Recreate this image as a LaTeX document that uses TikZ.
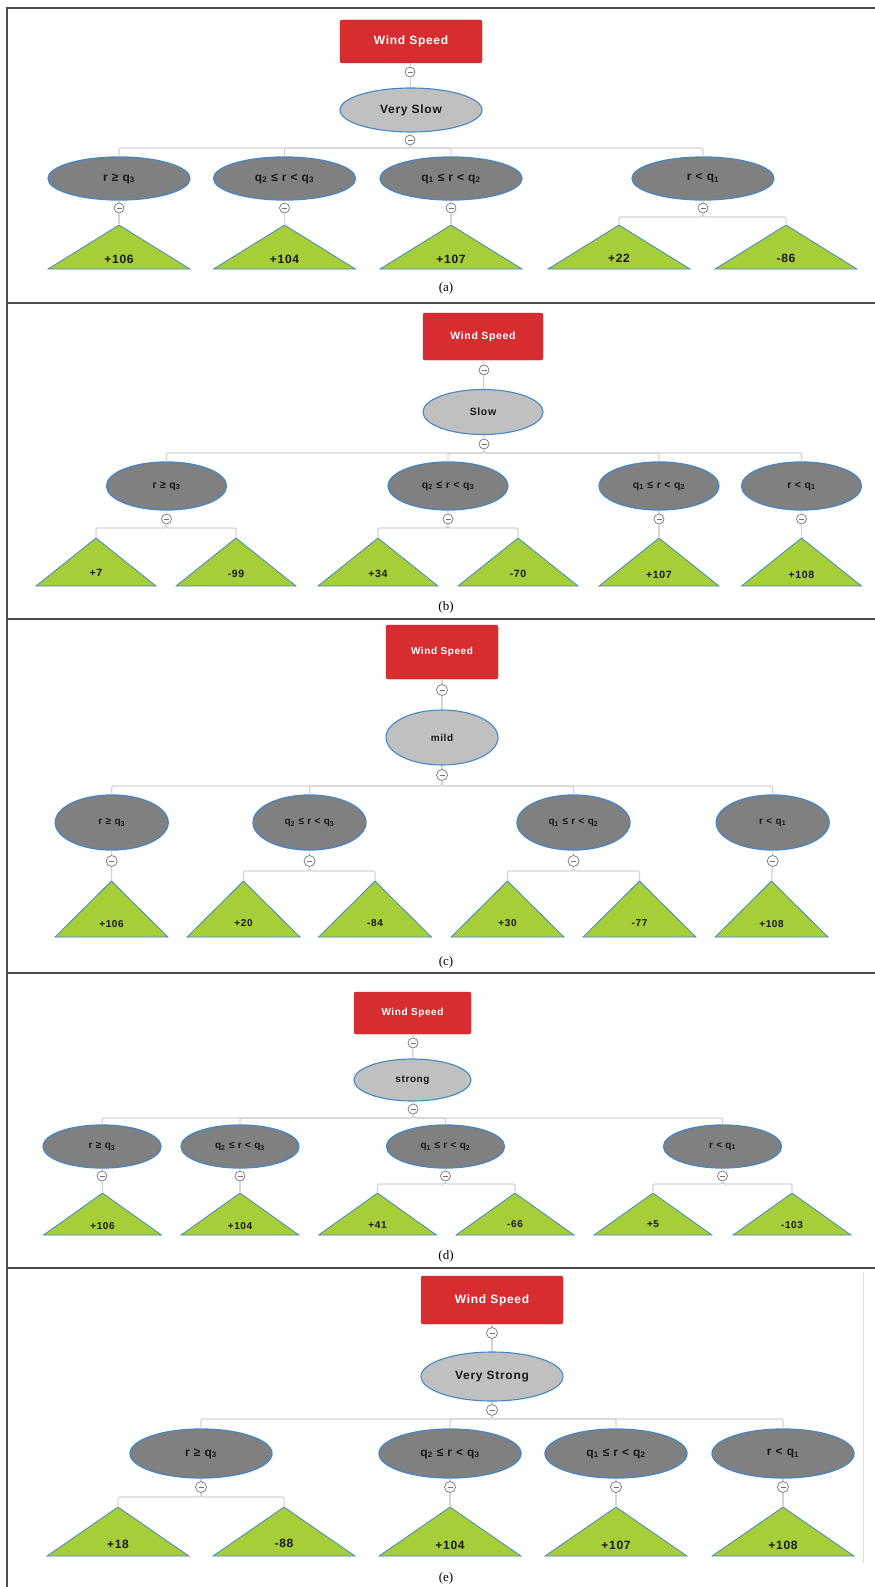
\documentclass[tikz,border=0pt]{standalone}
\usepackage{fontspec}
\setmainfont{Liberation Serif}
\newfontfamily\nodefont[LetterSpace=6]{Liberation Sans}
\usetikzlibrary{shapes.geometric,calc}
\definecolor{wsred}{RGB}{216,45,48}
\definecolor{catgray}{RGB}{192,192,192}
\definecolor{condgray}{RGB}{128,128,128}
\definecolor{leafgreen}{RGB}{166,206,57}
\definecolor{edgeblue}{RGB}{70,135,195}
\definecolor{linkgray}{RGB}{212,212,212}
\definecolor{toggray}{RGB}{115,115,115}
\definecolor{txtdark}{RGB}{25,25,25}
\newcommand{\tgl}{\rule[-0.35pt]{5pt}{0.8pt}}
\newcommand{\lv}[1]{\smash{\raisebox{-0.9em}{#1}}}

\begin{document}
\begin{tikzpicture}[x=1pt, y=-1pt,
    ws/.style={rectangle, rounded corners=2pt, fill=wsred, draw=wsred!85!black, text=white, minimum width=\nw, minimum height=\nh, inner sep=0},
    cat/.style={ellipse, fill=catgray, draw=edgeblue, line width=1.1pt, text=txtdark, minimum width=\nw, minimum height=\nh, inner sep=0},
    cond/.style={ellipse, fill=condgray, draw=edgeblue, line width=1.3pt, text=txtdark, minimum width=\nw, minimum height=\nh, inner sep=0},
    leaf/.style={isosceles triangle, isosceles triangle stretches, shape border rotate=90, fill=leafgreen, draw=edgeblue, line width=0.8pt, minimum width=\nw, minimum height=\lh, inner sep=0, anchor=apex, text=txtdark},
    tog/.style={circle, draw=toggray, fill=white, text=toggray, line width=0.7pt, minimum size=\ts, inner sep=0},
    link/.style={draw=linkgray, line width=1.3pt, rounded corners=2pt},
    frame/.style={draw=black!70, line width=1.1pt},
    captext/.style={font=\fontsize{13}{15}\selectfont},
]
\useasboundingbox (0,0) rectangle (875,1587);

% ── Frame and panel separators ──
\draw[frame] (875,8) -- (7,8) -- (7,1587);
\foreach \y in {303,619,973,1268}
  \draw[frame] (7,\y) -- (875,\y);
\draw[black!12, line width=1pt] (863,1272) -- (863,1563);

% ── Panel (a): Very Slow ──
\begin{scope}[every node/.append style={font=\nodefont\fontsize{12}{14}\selectfont\bfseries}]
  \def\nw{142pt}\def\nh{43pt}\def\lh{44pt}\def\ts{10pt}
  \node[ws]  (aws) at (411,41.5) {Wind Speed};
  \node[tog] (at0) at (410,72) {\tgl};
  \node[cat, minimum height=44pt] (acat) at (411,110) {Very Slow};
  \node[tog] (at1) at (410,140) {\tgl};
  \node[cond] (ac1) at (119,178.5) {r ≥ q\textsubscript{3}};
  \node[cond] (ac2) at (284.5,178.5) {q\textsubscript{2} ≤ r < q\textsubscript{3}};
  \node[cond] (ac3) at (451,178.5) {q\textsubscript{1} ≤ r < q\textsubscript{2}};
  \node[cond] (ac4) at (703,178.5) {r < q\textsubscript{1}};
  \node[tog] (ag1) at (119,208) {\tgl};
  \node[tog] (ag2) at (284.5,208) {\tgl};
  \node[tog] (ag3) at (451,208) {\tgl};
  \node[tog] (ag4) at (703,208) {\tgl};
  \node[leaf] (al1) at (119,224) {\lv{+106}};
  \node[leaf] (al2) at (284.5,224) {\lv{+104}};
  \node[leaf] (al3) at (451,224) {\lv{+107}};
  \node[leaf] (al4) at (619,224) {\lv{+22}};
  \node[leaf] (al5) at (786,224) {\lv{-86}};
  \draw[link] (aws) -- (at0) -- (acat) -- (at1);
  \foreach \c in {ac1,ac2,ac3,ac4}
    \draw[link] (at1) -- ++(0,8) -| (\c.north);
  \draw[link] (ac1) -- (ag1) -- (al1.apex);
  \draw[link] (ac2) -- (ag2) -- (al2.apex);
  \draw[link] (ac3) -- (ag3) -- (al3.apex);
  \draw[link] (ac4) -- (ag4);
  \draw[link] (ag4) -- ++(0,9) -| (al4.apex);
  \draw[link] (ag4) -- ++(0,9) -| (al5.apex);
\end{scope}
\node[captext] (capa) at (446,288) {(a)};

% ── Panel (b): Slow ──
\begin{scope}[every node/.append style={font=\nodefont\fontsize{10.5}{12}\selectfont\bfseries}]
  \def\nw{120pt}\def\nh{47pt}\def\lh{48pt}\def\ts{10pt}
  \node[ws]  (bws) at (483,336.5) {Wind Speed};
  \node[tog] (bt0) at (484,370) {\tgl};
  \node[cat, minimum height=45pt] (bcat) at (483,412) {Slow};
  \node[tog] (bt1) at (484,444) {\tgl};
  \node[cond, minimum height=48pt] (bc1) at (166.5,486) {r ≥ q\textsubscript{3}};
  \node[cond, minimum height=48pt] (bc2) at (448,486) {q\textsubscript{2} ≤ r < q\textsubscript{3}};
  \node[cond, minimum height=48pt] (bc3) at (659,486) {q\textsubscript{1} ≤ r < q\textsubscript{2}};
  \node[cond, minimum height=48pt] (bc4) at (801.5,486) {r < q\textsubscript{1}};
  \node[tog] (bg1) at (166.5,519) {\tgl};
  \node[tog] (bg2) at (448,519) {\tgl};
  \node[tog] (bg3) at (659,519) {\tgl};
  \node[tog] (bg4) at (801.5,519) {\tgl};
  \node[leaf] (bl1) at (96,537) {\lv{+7}};
  \node[leaf] (bl2) at (236,537) {\lv{-99}};
  \node[leaf] (bl3) at (378,537) {\lv{+34}};
  \node[leaf] (bl4) at (518,537) {\lv{-70}};
  \node[leaf] (bl5) at (659,537) {\lv{+107}};
  \node[leaf] (bl6) at (801.5,537) {\lv{+108}};
  \draw[link] (bws) -- (bt0) -- (bcat) -- (bt1);
  \foreach \c in {bc1,bc2,bc3,bc4}
    \draw[link] (bt1) -- ++(0,9) -| (\c.north);
  \foreach \c/\g in {bc1/bg1,bc2/bg2,bc3/bg3,bc4/bg4}
    \draw[link] (\c) -- (\g);
  \draw[link] (bg1) -- ++(0,9) -| (bl1.apex);
  \draw[link] (bg1) -- ++(0,9) -| (bl2.apex);
  \draw[link] (bg2) -- ++(0,9) -| (bl3.apex);
  \draw[link] (bg2) -- ++(0,9) -| (bl4.apex);
  \draw[link] (bg3) -- (bl5.apex);
  \draw[link] (bg4) -- (bl6.apex);
\end{scope}
\node[captext] (capb) at (446,607) {(b)};

% ── Panel (c): mild ──
\begin{scope}[every node/.append style={font=\nodefont\fontsize{10}{12}\selectfont\bfseries}]
  \def\nw{113pt}\def\nh{55pt}\def\lh{56pt}\def\ts{11pt}
  \node[ws, minimum width=112pt, minimum height=54pt] (cws) at (442,652) {Wind Speed};
  \node[tog] (ct0) at (442,690) {\tgl};
  \node[cat, minimum width=112pt] (ccat) at (442,737.5) {mild};
  \node[tog] (ct1) at (442,775) {\tgl};
  \node[cond] (cc1) at (111.7,822.5) {r ≥ q\textsubscript{3}};
  \node[cond] (cc2) at (309.5,822.5) {q\textsubscript{2} ≤ r < q\textsubscript{3}};
  \node[cond] (cc3) at (573.5,822.5) {q\textsubscript{1} ≤ r < q\textsubscript{2}};
  \node[cond] (cc4) at (772.7,822.5) {r < q\textsubscript{1}};
  \node[tog] (cg1) at (111.7,861) {\tgl};
  \node[tog] (cg2) at (309.5,861) {\tgl};
  \node[tog] (cg3) at (573.5,861) {\tgl};
  \node[tog] (cg4) at (772.7,861) {\tgl};
  \node[leaf] (cl1) at (111.5,880) {\lv{+106}};
  \node[leaf] (cl2) at (243.5,880) {\lv{+20}};
  \node[leaf] (cl3) at (375,880) {\lv{-84}};
  \node[leaf] (cl4) at (507.5,880) {\lv{+30}};
  \node[leaf] (cl5) at (639.5,880) {\lv{-77}};
  \node[leaf] (cl6) at (771.5,880) {\lv{+108}};
  \draw[link] (cws) -- (ct0) -- (ccat) -- (ct1);
  \foreach \c in {cc1,cc2,cc3,cc4}
    \draw[link] (ct1) -- ++(0,11) -| (\c.north);
  \foreach \c/\g in {cc1/cg1,cc2/cg2,cc3/cg3,cc4/cg4}
    \draw[link] (\c) -- (\g);
  \draw[link] (cg1) -- (cl1.apex);
  \draw[link] (cg2) -- ++(0,10) -| (cl2.apex);
  \draw[link] (cg2) -- ++(0,10) -| (cl3.apex);
  \draw[link] (cg3) -- ++(0,10) -| (cl4.apex);
  \draw[link] (cg3) -- ++(0,10) -| (cl5.apex);
  \draw[link] (cg4) -- (cl6.apex);
\end{scope}
\node[captext] (capc) at (446,962) {(c)};

% ── Panel (d): strong ──
\begin{scope}[every node/.append style={font=\nodefont\fontsize{10}{12}\selectfont\bfseries}]
  \def\nw{118pt}\def\nh{43pt}\def\lh{42pt}\def\ts{10pt}
  \node[ws, minimum width=117pt, minimum height=42pt] (dws) at (412.5,1013) {Wind Speed};
  \node[tog] (dt0) at (413,1043) {\tgl};
  \node[cat, minimum width=117pt, minimum height=42pt] (dcat) at (412.5,1080) {strong};
  \node[tog] (dt1) at (413,1109) {\tgl};
  \node[cond] (dc1) at (102,1146.5) {r ≥ q\textsubscript{3}};
  \node[cond] (dc2) at (240,1146.5) {q\textsubscript{2} ≤ r < q\textsubscript{3}};
  \node[cond] (dc3) at (445.5,1146.5) {q\textsubscript{1} ≤ r < q\textsubscript{2}};
  \node[cond] (dc4) at (722.5,1146.5) {r < q\textsubscript{1}};
  \node[tog] (dg1) at (102,1176) {\tgl};
  \node[tog] (dg2) at (240,1176) {\tgl};
  \node[tog] (dg3) at (445.5,1176) {\tgl};
  \node[tog] (dg4) at (722.5,1176) {\tgl};
  \node[leaf] (dl1) at (102.5,1192) {\lv{+106}};
  \node[leaf] (dl2) at (240,1192) {\lv{+104}};
  \node[leaf] (dl3) at (377.5,1192) {\lv{+41}};
  \node[leaf] (dl4) at (515,1192) {\lv{-66}};
  \node[leaf] (dl5) at (653,1192) {\lv{+5}};
  \node[leaf] (dl6) at (792,1192) {\lv{-103}};
  \draw[link] (dws) -- (dt0) -- (dcat) -- (dt1);
  \foreach \c in {dc1,dc2,dc3,dc4}
    \draw[link] (dt1) -- ++(0,9) -| (\c.north);
  \foreach \c/\g in {dc1/dg1,dc2/dg2,dc3/dg3,dc4/dg4}
    \draw[link] (\c) -- (\g);
  \draw[link] (dg1) -- (dl1.apex);
  \draw[link] (dg2) -- (dl2.apex);
  \draw[link] (dg3) -- ++(0,8) -| (dl3.apex);
  \draw[link] (dg3) -- ++(0,8) -| (dl4.apex);
  \draw[link] (dg4) -- ++(0,8) -| (dl5.apex);
  \draw[link] (dg4) -- ++(0,8) -| (dl6.apex);
\end{scope}
\node[captext] (capd) at (446,1256) {(d)};

% ── Panel (e): Very Strong ──
\begin{scope}[every node/.append style={font=\nodefont\fontsize{12}{14}\selectfont\bfseries}]
  \def\nw{142pt}\def\nh{49pt}\def\lh{49pt}\def\ts{11pt}
  \node[ws, minimum height=48pt] (ews) at (492,1300) {Wind Speed};
  \node[tog] (et0) at (492,1333) {\tgl};
  \node[cat] (ecat) at (492,1376.5) {Very Strong};
  \node[tog] (et1) at (492,1410) {\tgl};
  \node[cond] (ec1) at (201,1453.5) {r ≥ q\textsubscript{3}};
  \node[cond] (ec2) at (450,1453.5) {q\textsubscript{2} ≤ r < q\textsubscript{3}};
  \node[cond] (ec3) at (616,1453.5) {q\textsubscript{1} ≤ r < q\textsubscript{2}};
  \node[cond] (ec4) at (783,1453.5) {r < q\textsubscript{1}};
  \node[tog] (eg1) at (201,1487) {\tgl};
  \node[tog] (eg2) at (450,1487) {\tgl};
  \node[tog] (eg3) at (616,1487) {\tgl};
  \node[tog] (eg4) at (783,1487) {\tgl};
  \node[leaf] (el1) at (118,1506) {\lv{+18}};
  \node[leaf] (el2) at (284,1506) {\lv{-88}};
  \node[leaf] (el3) at (450,1506) {\lv{+104}};
  \node[leaf] (el4) at (616,1506) {\lv{+107}};
  \node[leaf] (el5) at (783,1506) {\lv{+108}};
  \draw[link] (ews) -- (et0) -- (ecat) -- (et1);
  \foreach \c in {ec1,ec2,ec3,ec4}
    \draw[link] (et1) -- ++(0,9) -| (\c.north);
  \foreach \c/\g in {ec1/eg1,ec2/eg2,ec3/eg3,ec4/eg4}
    \draw[link] (\c) -- (\g);
  \draw[link] (eg1) -- ++(0,10) -| (el1.apex);
  \draw[link] (eg1) -- ++(0,10) -| (el2.apex);
  \draw[link] (eg2) -- (el3.apex);
  \draw[link] (eg3) -- (el4.apex);
  \draw[link] (eg4) -- (el5.apex);
\end{scope}
\node[captext] (cape) at (446,1578) {(e)};

\end{tikzpicture}
\end{document}
